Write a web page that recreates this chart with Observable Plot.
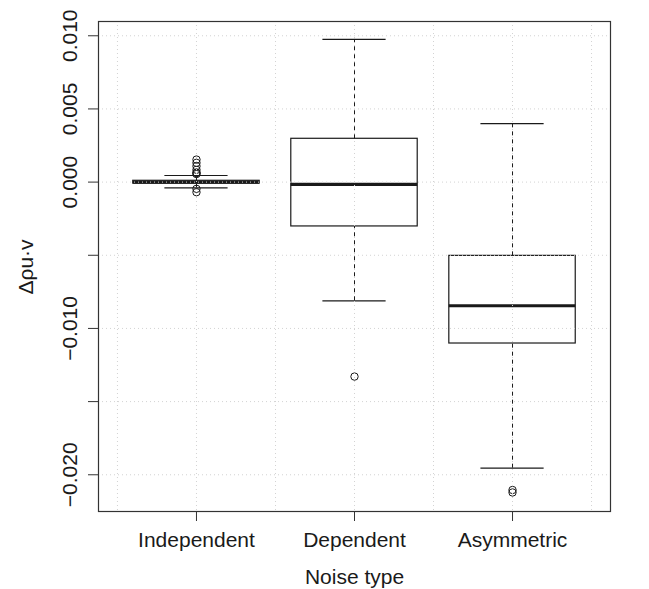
<!DOCTYPE html>
<html>
<head>
<meta charset="utf-8">
<script src="https://cdn.jsdelivr.net/npm/d3@7"></script>
<script src="https://cdn.jsdelivr.net/npm/@observablehq/plot@0.6"></script>
<style>
  body { margin: 0; background: #fff; }
  svg { display: block; }
</style>
</head>
<body>
<div id="chart"></div>
<script>
// ---- data ----
const categories  = ["Independent", "Dependent", "Asymmetric"];
const whiskerLow  = [-0.00039, -0.00811, -0.01955];
const q1          = [-0.00010, -0.00303, -0.01103];
const median      = [ 0.00000, -0.00016, -0.00845];
const q3          = [ 0.00009,  0.00296, -0.00504];
const whiskerHigh = [ 0.00045,  0.00975,  0.00400];

const outlierGroup = ["Independent", "Independent", "Independent", "Independent", "Independent",
                      "Independent", "Independent", "Independent", "Independent",
                      "Dependent", "Asymmetric", "Asymmetric"];
const outlierValue = [0.00154, 0.00132, 0.00109, 0.00084, 0.00066, 0.00061, 0.00055,
                      -0.00046, -0.00069,
                      -0.01329, -0.02104, -0.02121];

const yTicks      = [0.010, 0.005, 0.000, -0.005, -0.010, -0.015, -0.020];
const yTickLabels = ["0.010", "0.005", "0.000", "", "\u22120.010", "", "\u22120.020"];
const xGridTicks  = [0.5, 1, 1.5, 2, 2.5, 3, 3.5];

// ---- tables built from the arrays ----
const boxes = categories.map((c, i) => ({
  name: c, pos: i + 1,
  lo: whiskerLow[i], q1: q1[i], med: median[i], q3: q3[i], hi: whiskerHigh[i]
}));
const outliers = outlierGroup.map((g, i) => ({pos: categories.indexOf(g) + 1, v: outlierValue[i]}));

const FONT = "'Liberation Sans', Arial, Helvetica, sans-serif";
const INK = "#1a1a1a";
const halfBox = 0.4, halfCap = 0.2;

const chart = Plot.plot({
  width: 649,
  height: 589,
  marginLeft: 98,
  marginRight: 39,
  marginTop: 21,
  marginBottom: 78,
  style: {fontFamily: FONT, fontSize: "21px", color: INK, background: "#fff"},
  x: {type: "linear", domain: [0.38, 3.62]},
  y: {domain: [-0.02251, 0.010975]},
  marks: [
    // whisker caps
    Plot.ruleY(boxes, {y: "hi", x1: d => d.pos - halfCap, x2: d => d.pos + halfCap, stroke: INK, strokeWidth: 1.2}),
    Plot.ruleY(boxes, {y: "lo", x1: d => d.pos - halfCap, x2: d => d.pos + halfCap, stroke: INK, strokeWidth: 1.2}),
    // boxes
    Plot.rect(boxes, {x1: d => d.pos - halfBox, x2: d => d.pos + halfBox, y1: "q1", y2: "q3",
                      fill: "white", stroke: INK, strokeWidth: 1.2}),
    // medians
    Plot.ruleY(boxes, {y: "med", x1: d => d.pos - halfBox, x2: d => d.pos + halfBox, stroke: INK, strokeWidth: 3.2}),
    // outliers
    Plot.dot(outliers, {x: "pos", y: "v", r: 3.7, stroke: INK, fill: "none", strokeWidth: 1}),
    // grid (as R's grid())
    Plot.ruleX(xGridTicks, {stroke: "#d3d3d3", strokeDasharray: "1,3"}),
    Plot.ruleY(yTicks, {stroke: "#d3d3d3", strokeDasharray: "1,3"}),
    // whiskers (dashed)
    Plot.ruleX(boxes, {x: "pos", y1: "q3", y2: "hi", stroke: INK, strokeWidth: 1, strokeDasharray: "4,4"}),
    Plot.ruleX(boxes, {x: "pos", y1: "lo", y2: "q1", stroke: INK, strokeWidth: 1, strokeDasharray: "4,4"}),
    // frame
    Plot.frame({stroke: "#333", strokeWidth: 1.2}),
    // axes
    Plot.axisX({ticks: [1, 2, 3], tickFormat: d => categories[d - 1], tickSize: 10, tickPadding: 11,
                fontSize: 21, stroke: "#333", label: null}),
    Plot.axisY({ticks: yTicks, tickFormat: d => yTickLabels[yTicks.indexOf(d)], tickSize: 10,
                tickRotate: -90, tickPadding: 12, fontSize: 21, stroke: "#333", label: null}),
    // x axis title
    Plot.text(["Noise type"], {frameAnchor: "bottom", dy: 72, lineAnchor: "bottom", fontSize: 21, fill: INK})
  ]
});

document.getElementById("chart").appendChild(chart);

// y axis title
d3.select(chart).append("text")
  .attr("transform", "translate(33,267) rotate(-90)")
  .attr("text-anchor", "middle")
  .attr("font-family", FONT)
  .attr("font-size", 21)
  .attr("fill", INK)
  .text("\u0394\u03c1u\u00b7v");
</script>
</body>
</html>
